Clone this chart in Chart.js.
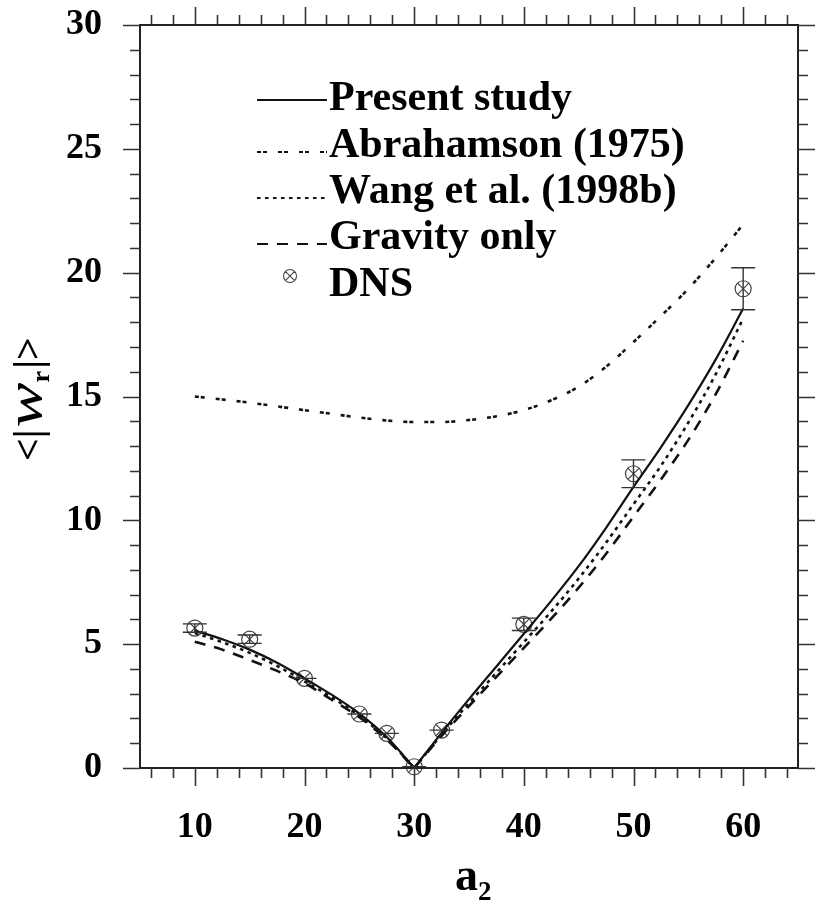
<!DOCTYPE html>
<html><head><meta charset="utf-8">
<script src="https://cdn.jsdelivr.net/npm/chart.js@4/dist/chart.umd.min.js"></script>
<style>html,body{margin:0;padding:0;background:#fff;}canvas{display:block;}</style>
</head><body>
<canvas id="c" width="817" height="901"></canvas>
<script>
// ---- data ----
const a2Values       = [10, 12.5, 15, 17.5, 20, 22.5, 25, 27.5, 30, 32.5, 35, 37.5, 40, 42.5, 45, 47.5, 50, 52.5, 55, 57.5, 60];
const presentStudy   = [5.55, 5.2, 4.78, 4.25, 3.62, 2.95, 2.2, 1.25, 0, 1.42, 2.78, 4.1, 5.42, 6.75, 8.15, 9.7, 11.35, 12.95, 14.65, 16.5, 18.55];
const abrahamson1975 = [15.0, 14.88, 14.75, 14.6, 14.45, 14.3, 14.15, 14.03, 13.97, 13.97, 14.05, 14.2, 14.45, 14.85, 15.4, 16.2, 17.2, 18.25, 19.35, 20.6, 21.95];
const wang1998b      = [5.45, 5.08, 4.65, 4.12, 3.5, 2.85, 2.1, 1.2, 0, 1.35, 2.62, 3.85, 5.08, 6.32, 7.65, 9.1, 10.65, 12.2, 13.95, 15.9, 18.15];
const gravityOnly    = [5.1, 4.78, 4.36, 3.92, 3.42, 2.75, 2.05, 1.15, 0, 1.3, 2.5, 3.68, 4.85, 6.03, 7.28, 8.65, 10.15, 11.65, 13.25, 15.1, 17.25];
const dnsA2          = [10, 15, 20, 25, 27.5, 30, 32.5, 40, 50, 60];
const dnsMean        = [5.65, 5.2, 3.62, 2.18, 1.4, 0.05, 1.53, 5.8, 11.88, 19.35];
const dnsErr         = [0.17, 0.17, 0, 0, 0, 0, 0, 0.25, 0.56, 0.85];
const xTickLabels    = [10, 20, 30, 40, 50, 60];
const yTickLabels    = [0, 5, 10, 15, 20, 25, 30];
const xMinorStep = 2, yMinorStep = 1;
const xRange = [5, 65], yRange = [0, 30];
const vertexIndex = a2Values.indexOf(30);

const SERIF = '"Liberation Serif", "Times New Roman", serif';
const INK = '#111';

function pts(xs, ys, from, to) {
  const out = [];
  for (let i = from; i <= to; i++) out.push({x: xs[i], y: ys[i]});
  return out;
}
function lineDs(label, ys, dash, width, split, legend) {
  const common = {label, showLine: true, pointRadius: 0, borderColor: INK, backgroundColor: INK,
    borderWidth: width, borderDash: dash, cubicInterpolationMode: 'monotone', tension: 0.4, fill: false,
    legendEntry: legend};
  if (!split) return [Object.assign({}, common, {data: pts(a2Values, ys, 0, a2Values.length - 1)})];
  return [
    Object.assign({}, common, {data: pts(a2Values, ys, 0, vertexIndex)}),
    Object.assign({}, common, {data: pts(a2Values, ys, vertexIndex, a2Values.length - 1), legendEntry: false})
  ];
}
const dnsPts = dnsA2.map((x, i) => ({x, y: dnsMean[i]}));

const datasets = [
  ...lineDs('Present study', presentStudy, [], 2.2, true, true),
  ...lineDs('Abrahamson (1975)', abrahamson1975, [4, 2, 4, 11], 2.6, false, true),
  ...lineDs('Wang et al. (1998b)', wang1998b, [3.5, 4.5], 2.6, true, true),
  ...lineDs('Gravity only', gravityOnly, [11, 9], 2.6, true, true),
  {label: 'DNS', data: dnsPts, showLine: false, pointStyle: 'circle', pointRadius: 8, pointBorderWidth: 1.2,
   pointBorderColor: '#444', pointBackgroundColor: 'rgba(0,0,0,0)', clip: false, legendEntry: true, isDns: true},
  {label: 'DNS', data: dnsPts, showLine: false, pointStyle: 'crossRot', pointRadius: 8, pointBorderWidth: 1.2,
   pointBorderColor: '#444', pointBackgroundColor: 'rgba(0,0,0,0)', clip: false, legendEntry: false}
];

const errorBars = {
  id: 'errorBars',
  afterDatasetsDraw(chart) {
    const {ctx, scales: {x, y}} = chart;
    ctx.save();
    ctx.strokeStyle = '#333'; ctx.lineWidth = 1.4;
    dnsA2.forEach((v, i) => {
      const px = x.getPixelForValue(v);
      const yt = y.getPixelForValue(dnsMean[i] + dnsErr[i]);
      const yb = y.getPixelForValue(dnsMean[i] - dnsErr[i]);
      const hw = 12;
      ctx.beginPath();
      if (dnsErr[i] > 0) { ctx.moveTo(px, yt); ctx.lineTo(px, yb); }
      ctx.moveTo(px - hw, yt); ctx.lineTo(px + hw, yt);
      ctx.moveTo(px - hw, yb); ctx.lineTo(px + hw, yb);
      ctx.stroke();
    });
    ctx.restore();
  }
};

const frame = {
  id: 'frame',
  afterDraw(chart) {
    const {ctx, chartArea: a, scales: {x, y}} = chart;
    ctx.save();
    ctx.strokeStyle = '#222'; ctx.lineWidth = 2;
    ctx.strokeRect(a.left, a.top, a.right - a.left, a.bottom - a.top);
    ctx.lineWidth = 1.6; ctx.strokeStyle = '#333';
    ctx.beginPath();
    for (let v = xRange[0] + 1; v < xRange[1]; v += xMinorStep) {
      const px = Math.round(x.getPixelForValue(v)) + 0.5;
      const len = xTickLabels.includes(v) ? 18 : 10;
      ctx.moveTo(px, a.bottom); ctx.lineTo(px, a.bottom + len);
      ctx.moveTo(px, a.top); ctx.lineTo(px, a.top - len);
    }
    for (let v = yRange[0]; v <= yRange[1]; v += yMinorStep) {
      const py = Math.round(y.getPixelForValue(v)) + 0.5;
      const len = yTickLabels.includes(v) ? 17 : 10;
      ctx.moveTo(a.left, py); ctx.lineTo(a.left - len, py);
      ctx.moveTo(a.right, py); ctx.lineTo(a.right + len, py);
    }
    ctx.stroke();

    // legend
    const entries = chart.data.datasets.filter(d => d.legendEntry);
    const baseY = [110, 157, 203, 249, 296];
    const lineY = [100, 152, 198, 244, 276];
    ctx.fillStyle = '#000';
    ctx.font = 'bold 42px ' + SERIF;
    ctx.textBaseline = 'alphabetic'; ctx.textAlign = 'left';
    entries.forEach((d, i) => {
      if (d.isDns) {
        const cx = 290, cy = lineY[i], r = 6.5;
        ctx.strokeStyle = '#444'; ctx.lineWidth = 1.1; ctx.setLineDash([]);
        ctx.beginPath(); ctx.arc(cx, cy, r, 0, Math.PI * 2);
        const o = r * Math.SQRT1_2;
        ctx.moveTo(cx - o, cy - o); ctx.lineTo(cx + o, cy + o);
        ctx.moveTo(cx + o, cy - o); ctx.lineTo(cx - o, cy + o);
        ctx.stroke();
      } else {
        ctx.strokeStyle = INK; ctx.lineWidth = d.borderWidth * 0.8; ctx.setLineDash(d.borderDash || []);
        ctx.beginPath(); ctx.moveTo(257, lineY[i]); ctx.lineTo(327, lineY[i]); ctx.stroke();
        ctx.setLineDash([]);
      }
      ctx.fillText(d.label, 329, baseY[i]);
    });

    // x title a2
    ctx.font = 'bold 46px ' + SERIF;
    ctx.fillText('a', 455, 890);
    const aw = ctx.measureText('a').width;
    ctx.font = 'bold 27px ' + SERIF;
    ctx.fillText('2', 455 + aw, 900);

    // y title <|w_r|>
    ctx.translate(41, 461);
    ctx.rotate(-Math.PI / 2);
    let cx = 0;
    ctx.font = 'bold 40px ' + SERIF;
    ctx.fillText('<', cx, 0); cx += ctx.measureText('<').width;
    ctx.fillText('|', cx, 0); cx += ctx.measureText('|').width + 2;
    ctx.font = 'italic 50px ' + SERIF;
    const ww = ctx.measureText('w').width;
    ctx.save(); ctx.translate(cx, 0); ctx.scale(1.35, 1); ctx.fillText('w', 0, 0); ctx.restore();
    cx += ww * 1.35;
    ctx.font = 'bold 26px ' + SERIF;
    ctx.fillText('r', cx, 8); cx += ctx.measureText('r').width + 2;
    ctx.font = 'bold 40px ' + SERIF;
    ctx.fillText('|', cx, 0); cx += ctx.measureText('|').width;
    ctx.fillText('>', cx, 0);
    ctx.restore();
  }
};

new Chart(document.getElementById('c'), {
  type: 'scatter',
  data: {datasets},
  options: {
    responsive: false, animation: false, devicePixelRatio: 1, events: [],
    layout: {padding: {top: 25, right: 19, left: 0, bottom: 0}},
    plugins: {legend: {display: false}, tooltip: {enabled: false}},
    scales: {
      x: {type: 'linear', min: xRange[0], max: xRange[1],
        grid: {display: false, drawTicks: false}, border: {display: false},
        ticks: {font: {family: SERIF, size: 36, weight: 'bold'}, color: '#000', padding: 38, maxRotation: 0, autoSkip: false},
        afterBuildTicks: s => { s.ticks = xTickLabels.map(v => ({value: v})); },
        afterFit: s => { s.height = 133; s.paddingLeft = 0; s.paddingRight = 0; }},
      y: {type: 'linear', min: yRange[0], max: yRange[1],
        grid: {display: false, drawTicks: false}, border: {display: false},
        ticks: {font: {family: SERIF, size: 36, weight: 'bold'}, color: '#000', padding: 38, autoSkip: false},
        afterBuildTicks: s => { s.ticks = yTickLabels.map(v => ({value: v})); },
        afterFit: s => { s.width = 140; s.paddingTop = 0; s.paddingBottom = 0; }}
    }
  },
  plugins: [errorBars, frame]
});
</script>
</body></html>
